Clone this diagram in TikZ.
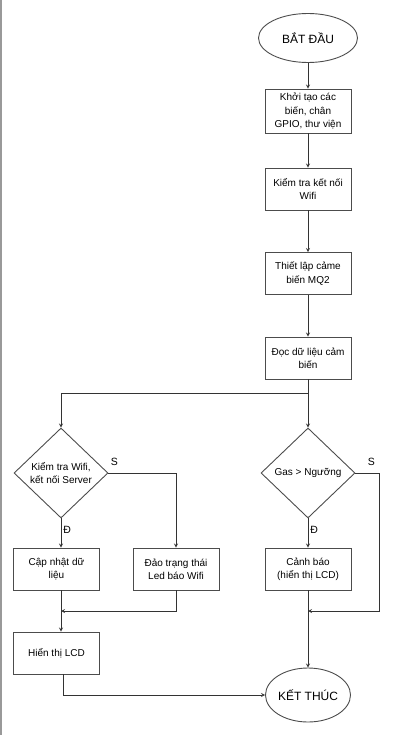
\documentclass[tikz,border=0pt]{standalone}
\usepackage{fontspec}
\setmainfont{Liberation Sans}
\usetikzlibrary{arrows,shapes.geometric}

\begin{document}
\begin{tikzpicture}[x=1pt,y=-1pt]
    \tikzset{
        process/.style={rectangle,draw=black!70,line width=0.9pt,minimum width=86pt,minimum height=42pt,inner sep=1pt,align=center,font=\fontsize{10}{13.3}\selectfont},
        decision/.style={diamond,draw=black!70,line width=0.9pt,minimum width=94pt,minimum height=90pt,inner sep=0pt,align=center,font=\fontsize{10}{13.3}\selectfont},
        terminal/.style={ellipse,draw=black!70,line width=0.9pt,inner sep=0pt,font=\fontsize{12}{14}\selectfont},
        flow/.style={->,>=stealth,draw=black!80,line width=0.8pt},
        branch/.style={font=\fontsize{10.5}{12}\selectfont,inner sep=2pt}
    }
    \useasboundingbox (0,0) rectangle (406,735);
    \draw[black!40,line width=1.2pt] (1,0) -- (1,735);

    % Nodes
    \node (start) at (308,38) [terminal,minimum width=99pt,minimum height=49pt] {BẮT ĐẦU};
    \node (init) [below of=start,node distance=73pt,process,minimum height=44pt] {Khởi tạo các\\biến, chân\\GPIO, thư viện};
    \node (wifi) [below of=init,node distance=78pt,process] {Kiểm tra kết nối\\Wifi};
    \node (mq2) [below of=wifi,node distance=84.5pt,process] {Thiết lập cảme\\biến MQ2};
    \node (read) [below of=mq2,node distance=84.5pt,process] {Đọc dữ liệu cảm\\biến};
    \node (gas) [below of=read,node distance=115pt,decision] {Gas > Ngưỡng};
    \node (chkwifi) at (61,473) [decision] {Kiểm tra Wifi,\\kết nối Server};
    \node (update) at (56.5,569) [process] {Cập nhật dữ\\liệu};
    \node (led) at (176,569) [process] {Đảo trạng thái\\Led báo Wifi};
    \node (warn) [below of=gas,node distance=96pt,process] {Cảnh báo\\(hiển thị LCD)};
    \node (lcd) [below of=update,node distance=84pt,process] {Hiển thị LCD};
    \node (stop) [below of=warn,node distance=126pt,terminal,minimum width=85pt,minimum height=54pt] {KẾT THÚC};

    \coordinate (split) at (308,393);
    \coordinate (mergeL) at (61,611);
    \coordinate (mergeR) at (308,611);

    % Arrows
    \draw [flow] (start) to (init);
    \draw [flow] (init) to (wifi);
    \draw [flow] (wifi) to (mq2);
    \draw [flow] (mq2) to (read);
    \draw [flow] (read) to (gas);
    \draw [flow] (split) -| (chkwifi.north);
    \draw [flow] (chkwifi.south) -- node[branch,right,pos=0.4] {Đ} (update.north -| chkwifi.south);
    \draw [flow] (chkwifi.east) node[branch,above right,yshift=5pt] {S} -| (led.north);
    \draw [flow] (gas.south) -- node[branch,right,pos=0.4] {Đ} (warn.north);
    \draw [flow] (gas.east) node[branch,above right,xshift=10pt,yshift=5pt] {S} -- ++(24,0) |- (mergeR);
    \draw [flow] (led.south) |- (mergeL);
    \draw [flow] (update.south -| chkwifi.south) -- (lcd.north -| chkwifi.south);
    \draw [flow] (warn) to (stop);
    \draw [flow] ([xshift=6.5pt]lcd.south) |- (stop.west);
\end{tikzpicture}
\end{document}
